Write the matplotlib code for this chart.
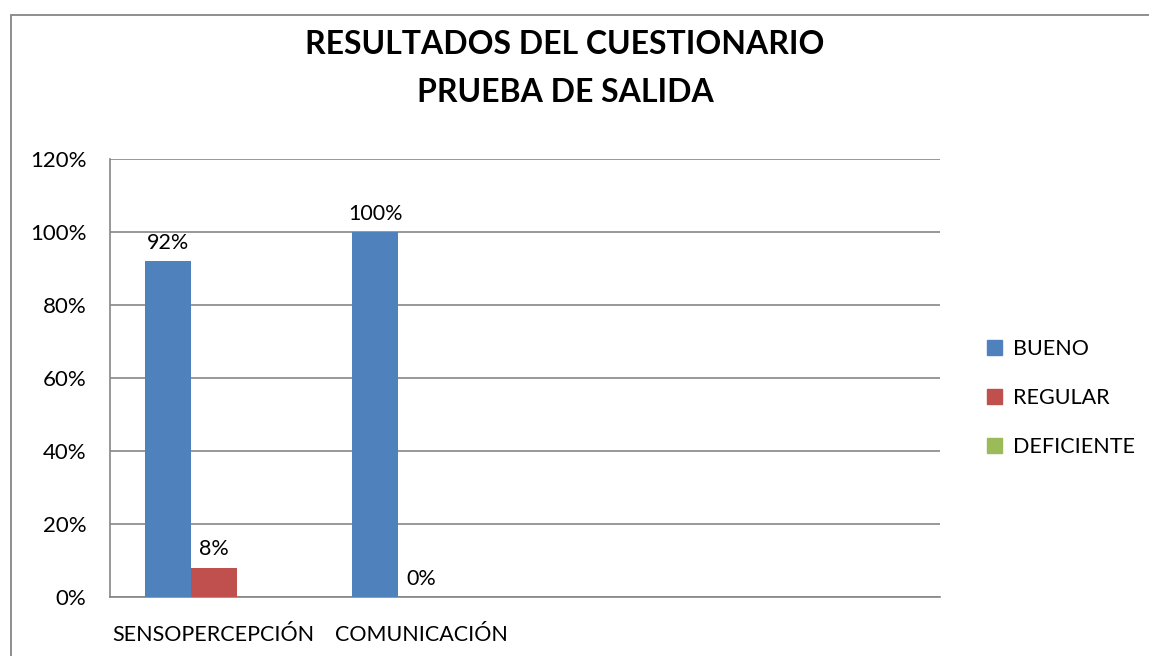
import numpy as np
import matplotlib.pyplot as plt
from matplotlib.patches import Rectangle

plt.rcParams['font.family'] = ['Lato', 'DejaVu Sans']

# Chart data
categories = ['SENSOPERCEPCIÓN', 'COMUNICACIÓN', '', '']
series = ['BUENO', 'REGULAR', 'DEFICIENTE']
bueno = [0.92, 1.00, np.nan, np.nan]
regular = [0.08, 0.00, np.nan, np.nan]
deficiente = [np.nan, np.nan, np.nan, np.nan]
colors = ['#4F81BD', '#C0504D', '#9BBB59']
yticks = [0, 0.2, 0.4, 0.6, 0.8, 1.0, 1.2]

fig = plt.figure(figsize=(11.49, 6.56), dpi=100)
W, H = 1149, 656

# outer chart border (runs off the image right/bottom)
fig.patches.append(Rectangle((11 / W, -0.05), 1.2, 1 - 15 / H + 0.05,
                             transform=fig.transFigure, fill=False,
                             edgecolor='#868686', linewidth=1.3))

ax = fig.add_axes([110 / W, 1 - 597 / H, (940 - 110) / W, (597 - 159) / H])

x = np.arange(len(categories))
width = 0.222
for i, (vals, col) in enumerate(zip([bueno, regular, deficiente], colors)):
    pos = x + (i - 1) * width
    ax.bar(pos, vals, width=width, color=col, zorder=3)
    for p, v in zip(pos, vals):
        if not np.isnan(v):
            ax.annotate(f'{v * 100:.0f}%', (p, v), xytext=(0, 6),
                        textcoords='offset points', ha='center', va='bottom',
                        fontsize=15.5)

ax.set_xlim(-0.5, len(categories) - 0.5)
ax.set_ylim(0, 1.2)
ax.set_yticks(yticks)
ax.set_yticklabels([f'{t * 100:.0f}%' for t in yticks], fontsize=16)
ax.set_xticks(x)
ax.set_xticklabels(categories, fontsize=15.5)
ax.tick_params(axis='both', length=0)
ax.tick_params(axis='y', pad=17)
ax.tick_params(axis='x', pad=20)
ax.yaxis.grid(True, color='#868686', linewidth=1.2, zorder=0)
for s in ['top', 'right']:
    ax.spines[s].set_visible(False)
for s in ['left', 'bottom']:
    ax.spines[s].set_color('#868686')
    ax.spines[s].set_linewidth(1.2)

fig.text(565 / W, 1 - 45 / H, 'RESULTADOS DEL CUESTIONARIO', ha='center',
         va='center', fontsize=23, fontweight='bold')
fig.text(565 / W, 1 - 93 / H, 'PRUEBA DE SALIDA', ha='center',
         va='center', fontsize=23, fontweight='bold')

handles = [Rectangle((0, 0), 1, 1, color=c) for c in colors]
fig.legend(handles, series, loc='center left', bbox_to_anchor=(968 / W, 1 - 398 / H),
           frameon=False, fontsize=15.5, handlelength=0.7, handleheight=0.7,
           labelspacing=1.35, handletextpad=0.5)

fig.savefig('out.png', dpi=100)
